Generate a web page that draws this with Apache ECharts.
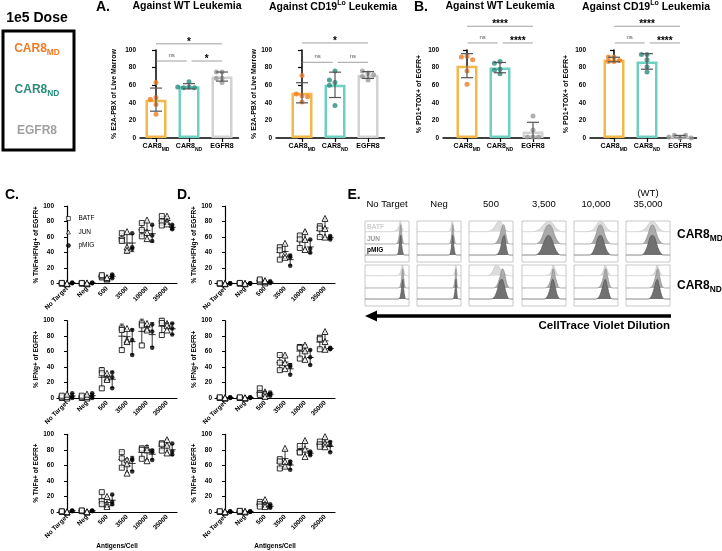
<!DOCTYPE html>
<html><head><meta charset="utf-8">
<script src="https://cdn.jsdelivr.net/npm/echarts@6.0.0/dist/echarts.min.js"></script>
<style>html,body{margin:0;padding:0;background:#fff;}#c{width:722px;height:551px;}</style>
</head><body><div id="c"></div>
<script>
// ================= DATA =================
const barCats = ['CAR8MD', 'CAR8ND', 'EGFR8'];
// Panel A: % E2A-PBX of live marrow (5 mice per group)
const aWT_MD = [63, 46, 44, 38, 27];
const aWT_ND = [64, 58, 57, 57, 58];
const aWT_EG = [75, 75, 68, 68, 63];
const aLo_MD = [71, 48, 50, 47, 41];
const aLo_ND = [76, 63, 66, 60, 37];
const aLo_EG = [74, 76, 70, 66, 72];
// Panel B: % PD1+TOX+ of EGFR+
const bWT_MD = [93, 92, 89, 76, 61];
const bWT_ND = [87, 85, 78, 77, 73];
const bWT_EG = [25, 9, 1, 1, 1];
const bLo_MD = [92, 92, 88, 87, 87];
const bLo_ND = [95, 95, 89, 81, 75];
const bLo_EG = [0, 3, 3, 1, 0];
// significance: [MD vs EGFR8, MD vs ND, ND vs EGFR8]
const sigA_WT = ['*', 'ns', '*'];
const sigA_Lo = ['*', 'ns', 'ns'];
const sigB_WT = ['****', 'ns', '****'];
const sigB_Lo = ['****', 'ns', '****'];

// Panels C / D: per antigen density, three replicates per construct
const antigenCats = ['No Target', 'Neg', '500', '3500', '10000', '35000'];
const dotGroups = ['BATF', 'JUN', 'pMIG'];
const cTI_BATF = [[0,0.5,1],[0,0.5,1],[8,9.5,11],[65,57,55],[78,69,61],[87,80,75]];
const cTI_JUN  = [[0,0,0.5],[0,0,1],[6,7,8],[67,47,43],[82,66,58],[87,80,77]];
const cTI_pMIG = [[0.5,1,1.5],[0.5,1,1.5],[7,10,12],[65,47,45],[76,62,55],[76,72,70]];
const cI_BATF = [[0,1,3],[0,1,3],[36,32,12.5],[90,88,62],[96.5,94,68],[100,97,81.5]];
const cI_JUN  = [[0,2,5],[0,2,5],[32,26,24],[90,75,73],[96.5,90,88],[96.5,94,88]];
const cI_pMIG = [[0,2,6],[0,3,6],[33,27,12.5],[88,75,55.6],[95,86,65],[96.5,90,82]];
const cT_BATF = [[0,0.5,1],[1,1.5,2],[25.5,14,10],[77,69,57],[82,80,68.5],[88.5,87,79]];
const cT_JUN  = [[0,0,0.5],[0,0,0.5],[20,10,7],[67,62,50],[83,80,66],[93,86,76]];
const cT_pMIG = [[1,1.5,2],[1,1.5,2],[22.5,13,10],[68.5,67,52],[79,77,67],[88,78,74]];
const dTI_BATF = [[0,0,0.5],[0,0.5,1],[2,4,5.5],[47,43,31],[62,57,46],[74,71,60]];
const dTI_JUN  = [[0,0,0.5],[0,0,0.5],[1,3,4],[52,38.5,34],[67,57,44],[84,71,60]];
const dTI_pMIG = [[0,0.5,0.5],[0,0.5,0.5],[1,2,3],[36,34,23],[57,45,40],[61.5,59,57]];
const dI_BATF = [[0,0,1],[0,0,1],[12.5,6,4],[55.6,45.7,36],[66,65,51],[78,76,63]];
const dI_JUN  = [[0,0,0.5],[0,0,0.5],[8,6,2],[55.6,45.7,38],[68.5,61,50],[86,73,63]];
const dI_pMIG = [[0,0.5,1],[0,0.5,1],[7,5,3],[42.7,40.5,30],[62,52.6,42.7],[65,64,63]];
const dT_BATF = [[0,0.5,1],[0,1,1.5],[13,10,7],[68,65,56],[85,77,76.6],[90.6,87,84]];
const dT_JUN  = [[0,0,0.5],[0,0.5,1],[16,10,7],[82,65,59],[92,81,71.5],[97,88.5,84]];
const dT_pMIG = [[0,0.5,1],[0,0.5,1],[10,7,5.5],[65,62,54.5],[78,76,73],[90,86,77]];

// Panel E: CellTrace Violet histograms, [x fraction of plot, normalized count]
const eColLabels = ['No Target', 'Neg', '500', '3,500', '10,000', '35,000'];
const hMD_BATF = [
  [[0,0],[0.6,0],[0.68,0.05],[0.74,0.22],[0.78,0.65],[0.8,1],[0.83,0.6],[0.86,0.12],[0.9,0],[1,0]],
  [[0,0],[0.7,0],[0.75,0.1],[0.78,0.55],[0.8,1],[0.83,0.45],[0.86,0.05],[0.9,0],[1,0]],
  [[0,0],[0.4,0],[0.5,0.12],[0.58,0.45],[0.65,0.9],[0.69,1],[0.74,0.8],[0.8,0.35],[0.86,0.08],[0.92,0],[1,0]],
  [[0,0],[0.25,0],[0.35,0.1],[0.45,0.45],[0.55,0.9],[0.61,1],[0.68,0.85],[0.76,0.4],[0.84,0.1],[0.9,0],[1,0]],
  [[0,0],[0.3,0],[0.4,0.1],[0.48,0.4],[0.55,0.85],[0.6,1],[0.66,0.85],[0.74,0.35],[0.82,0.06],[0.88,0],[1,0]],
  [[0,0],[0.28,0],[0.38,0.1],[0.47,0.45],[0.55,0.9],[0.6,1],[0.66,0.85],[0.74,0.4],[0.82,0.08],[0.9,0],[1,0]]
];
const hMD_JUN = [
  [[0,0],[0.68,0],[0.74,0.08],[0.78,0.5],[0.81,1],[0.84,0.45],[0.87,0.05],[0.9,0],[1,0]],
  [[0,0],[0.71,0],[0.76,0.1],[0.79,0.55],[0.81,1],[0.84,0.4],[0.87,0.04],[0.9,0],[1,0]],
  [[0,0],[0.55,0],[0.63,0.1],[0.7,0.45],[0.76,0.95],[0.79,1],[0.83,0.6],[0.87,0.15],[0.92,0],[1,0]],
  [[0,0],[0.3,0],[0.4,0.12],[0.48,0.5],[0.56,0.92],[0.62,1],[0.68,0.85],[0.76,0.35],[0.84,0.06],[0.9,0],[1,0]],
  [[0,0],[0.35,0],[0.43,0.12],[0.5,0.5],[0.56,0.92],[0.6,1],[0.65,0.85],[0.72,0.35],[0.8,0.05],[0.86,0],[1,0]],
  [[0,0],[0.35,0],[0.43,0.12],[0.5,0.5],[0.56,0.9],[0.6,1],[0.65,0.85],[0.72,0.35],[0.8,0.06],[0.86,0],[1,0]]
];
const hMD_pMIG = [
  [[0,0],[0.7,0],[0.75,0.08],[0.78,0.55],[0.81,1],[0.84,0.4],[0.87,0.04],[0.9,0],[1,0]],
  [[0,0],[0.72,0],[0.76,0.1],[0.79,0.6],[0.81,1],[0.84,0.4],[0.87,0.04],[0.9,0],[1,0]],
  [[0,0],[0.6,0],[0.67,0.1],[0.72,0.4],[0.77,0.9],[0.8,1],[0.84,0.5],[0.88,0.08],[0.92,0],[1,0]],
  [[0,0],[0.3,0],[0.4,0.15],[0.48,0.55],[0.55,0.9],[0.6,1],[0.66,0.88],[0.74,0.4],[0.82,0.08],[0.9,0],[1,0]],
  [[0,0],[0.35,0],[0.43,0.15],[0.5,0.55],[0.55,0.9],[0.6,1],[0.65,0.88],[0.72,0.35],[0.8,0.05],[0.86,0],[1,0]],
  [[0,0],[0.35,0],[0.43,0.15],[0.5,0.55],[0.55,0.92],[0.6,1],[0.65,0.9],[0.72,0.4],[0.8,0.06],[0.86,0],[1,0]]
];
const hND_BATF = [
  [[0,0],[0.7,0],[0.77,0.08],[0.81,0.4],[0.85,1],[0.88,0.5],[0.91,0.08],[0.94,0],[1,0]],
  [[0,0],[0.8,0],[0.84,0.1],[0.87,0.6],[0.885,1],[0.9,0.55],[0.92,0.06],[0.95,0],[1,0]],
  [[0,0],[0.4,0],[0.48,0.1],[0.55,0.5],[0.6,0.95],[0.64,1],[0.7,0.7],[0.78,0.25],[0.86,0.05],[0.92,0],[1,0]],
  [[0,0],[0.55,0],[0.62,0.1],[0.67,0.45],[0.71,1],[0.75,0.6],[0.8,0.15],[0.86,0],[1,0]],
  [[0,0],[0.55,0],[0.62,0.1],[0.67,0.5],[0.71,1],[0.75,0.6],[0.8,0.15],[0.86,0],[1,0]],
  [[0,0],[0.55,0],[0.62,0.1],[0.67,0.5],[0.71,1],[0.75,0.55],[0.8,0.12],[0.86,0],[1,0]]
];
const hND_JUN = [
  [[0,0],[0.75,0],[0.8,0.1],[0.83,0.5],[0.86,1],[0.88,0.5],[0.91,0.05],[0.94,0],[1,0]],
  [[0,0],[0.8,0],[0.84,0.1],[0.87,0.6],[0.885,1],[0.9,0.5],[0.92,0.05],[0.95,0],[1,0]],
  [[0,0],[0.55,0],[0.63,0.12],[0.7,0.55],[0.76,1],[0.8,0.85],[0.85,0.3],[0.9,0.04],[0.94,0],[1,0]],
  [[0,0],[0.52,0],[0.6,0.12],[0.66,0.5],[0.71,1],[0.76,0.55],[0.82,0.1],[0.88,0],[1,0]],
  [[0,0],[0.52,0],[0.6,0.12],[0.66,0.5],[0.72,1],[0.77,0.55],[0.82,0.1],[0.88,0],[1,0]],
  [[0,0],[0.52,0],[0.6,0.12],[0.66,0.5],[0.72,1],[0.77,0.55],[0.82,0.1],[0.88,0],[1,0]]
];
const hND_pMIG = [
  [[0,0],[0.75,0],[0.8,0.1],[0.83,0.55],[0.86,1],[0.88,0.5],[0.91,0.05],[0.94,0],[1,0]],
  [[0,0],[0.8,0],[0.84,0.1],[0.87,0.6],[0.885,1],[0.9,0.5],[0.92,0.05],[0.95,0],[1,0]],
  [[0,0],[0.5,0],[0.58,0.12],[0.65,0.5],[0.71,0.95],[0.75,1],[0.8,0.7],[0.86,0.2],[0.92,0],[1,0]],
  [[0,0],[0.5,0],[0.58,0.15],[0.64,0.55],[0.7,1],[0.75,0.65],[0.81,0.15],[0.88,0],[1,0]],
  [[0,0],[0.5,0],[0.58,0.15],[0.64,0.55],[0.71,1],[0.76,0.62],[0.82,0.12],[0.88,0],[1,0]],
  [[0,0],[0.5,0],[0.58,0.15],[0.64,0.55],[0.71,1],[0.76,0.62],[0.82,0.12],[0.88,0],[1,0]]
];

// ================= STYLE / LAYOUT =================
const F = '"Liberation Sans", Arial, Helvetica, sans-serif';
const BAR_EDGE = ['#F2B84B', '#6FCFC1', '#D2D2D2'];
const DOT = ['#F07A22', '#2A8C7C', '#9A9A9A'];
const mean = a => a.reduce((s, v) => s + v, 0) / a.length;
const sd = a => { const m = mean(a); return Math.sqrt(a.reduce((s, v) => s + (v - m) * (v - m), 0) / (a.length - 1)); };

const grid = [], xAxis = [], yAxis = [], series = [], graphic = [];

function swarm(vals, xi, d, thr) {
  const placed = [];
  return vals.map(v => {
    const near = placed.filter(p => Math.abs(p[1] - v) < thr);
    const cands = [0, -d, d, -2 * d, 2 * d];
    let off = cands.find(c => near.every(p => Math.abs(p[0] - c) > d * 0.5));
    if (off === undefined) off = 0;
    placed.push([off, v]);
    return [xi + off, v];
  });
}

const barRich = {
  b: { fontSize: 7, fontWeight: 'bold', fontFamily: F, color: '#000', verticalAlign: 'top', lineHeight: 9 },
  s: { fontSize: 5, fontWeight: 'bold', fontFamily: F, color: '#000', verticalAlign: 'top', padding: [4, 0, 0, 0] }
};
const catLabel = c => c.indexOf('CAR8') === 0 ? '{b|CAR8}{s|' + c.slice(4) + '}' : '{b|' + c + '}';

function barPanel(box, groups, sig, yName, lv) {
  const gi = grid.length;
  const ppu = box.ppu;
  const min = -(box.c0 - box.ax) / ppu;
  grid.push({ left: box.ax, top: box.t, width: (2.5 - min) * ppu, height: box.h });
  const xi = xAxis.length;
  xAxis.push({
    type: 'value', gridIndex: gi, min: min, max: 2.5, splitLine: { show: false },
    axisLine: { show: true, onZero: false, lineStyle: { color: '#000', width: 1.5 } },
    axisTick: { show: true, customValues: [0, 1, 2], length: 4, lineStyle: { color: '#000', width: 1.2 } },
    axisLabel: { show: true, customValues: [0, 1, 2], formatter: v => catLabel(barCats[Math.round(v)]), rich: barRich, margin: 5 }
  });
  const yi = yAxis.length;
  yAxis.push({
    type: 'value', gridIndex: gi, min: 0, max: 100, interval: 20, name: yName, nameLocation: 'middle', nameGap: box.ng, nameRotate: 90,
    nameTextStyle: { fontSize: 7, fontWeight: 'bold', color: '#000', fontFamily: F },
    splitLine: { show: false },
    axisLine: { show: true, lineStyle: { color: '#000', width: 1.5 } },
    axisTick: { show: true, length: 4, lineStyle: { color: '#000', width: 1.2 } },
    axisLabel: { fontSize: 6.5, fontWeight: 'bold', color: '#000', fontFamily: F, margin: 4 }
  });
  series.push({
    type: 'bar', xAxisIndex: xi, yAxisIndex: yi, barWidth: 21, silent: true, z: 1,
    itemStyle: { color: '#fff', borderWidth: 2.5 },
    data: groups.map((g, i) => ({ value: [i, mean(g)], itemStyle: { borderColor: BAR_EDGE[i] } }))
  });
  groups.forEach((g, i) => series.push({
    type: 'scatter', xAxisIndex: xi, yAxisIndex: yi, symbolSize: 5, z: 3, silent: true,
    itemStyle: { color: DOT[i] }, data: swarm(g, i, 0.17, 4.5)
  }));
  series.push({
    type: 'custom', xAxisIndex: xi, yAxisIndex: yi, z: 4, silent: true, clip: true,
    data: groups.map((g, i) => [i, mean(g) - sd(g), mean(g) + sd(g)]),
    renderItem: (p, api) => {
      const a = api.coord([api.value(0), api.value(1)]), b = api.coord([api.value(0), api.value(2)]);
      const st = { stroke: '#555', lineWidth: 1.2 };
      return { type: 'group', children: [
        { type: 'line', shape: { x1: a[0], y1: a[1], x2: b[0], y2: b[1] }, style: st },
        { type: 'line', shape: { x1: a[0] - 6, y1: a[1], x2: a[0] + 6, y2: a[1] }, style: st },
        { type: 'line', shape: { x1: b[0] - 6, y1: b[1], x2: b[0] + 6, y2: b[1] }, style: st }
      ] };
    }
  });
  const spans = [[0, 2, lv[1]], [0.02, 0.93, lv[0]], [1.08, 2, lv[0]]];
  series.push({
    type: 'custom', xAxisIndex: xi, yAxisIndex: yi, z: 5, silent: true, clip: false,
    data: sig.map((s, k) => [spans[k][0], spans[k][1], spans[k][2]]),
    renderItem: (p, api) => {
      const a = api.coord([api.value(0), api.value(2)]), b = api.coord([api.value(1), api.value(2)]);
      const t = sig[p.dataIndex];
      const isNs = t === 'ns';
      return { type: 'group', children: [
        { type: 'line', shape: { x1: a[0], y1: a[1], x2: b[0], y2: b[1] }, style: { stroke: '#A0A0A0', lineWidth: 1 } },
        { type: 'text', x: (a[0] + b[0]) / 2, y: a[1] - (isNs ? 5.5 : 2), style: {
          text: t, align: 'center', verticalAlign: 'middle', fill: isNs ? '#555' : '#000',
          font: isNs ? '6px ' + F : 'bold 10px ' + F } }
      ] };
    }
  });
}

const ERR = { stroke: '#000', lineWidth: 0.8 };
function dotPanel(box, sets, yName, xName) {
  const gi = grid.length;
  grid.push({ left: box.l, top: box.t, width: 120, height: box.h });
  const xc = xAxis.length;
  xAxis.push({
    type: 'category', gridIndex: gi, data: antigenCats, name: xName || '', nameLocation: 'middle', nameGap: 31,
    nameTextStyle: { fontSize: 6.5, fontWeight: 'bold', color: '#000', fontFamily: F },
    axisLine: { lineStyle: { color: '#000', width: 1.2 } },
    axisTick: { alignWithLabel: true, length: 3, lineStyle: { color: '#000', width: 1 } },
    axisLabel: { rotate: 45, interval: 0, fontSize: 6.5, fontWeight: 'bold', color: '#000', fontFamily: F, margin: 4 }
  });
  const xv = xAxis.length;
  xAxis.push({ type: 'value', gridIndex: gi, min: -0.5, max: 5.5, show: false });
  const yi = yAxis.length;
  yAxis.push({
    type: 'value', gridIndex: gi, min: 0, max: 100, interval: 20, name: yName, nameLocation: 'middle', nameGap: box.ng, nameRotate: 90,
    nameTextStyle: { fontSize: 6.5, fontWeight: 'bold', color: '#000', fontFamily: F },
    splitLine: { show: false },
    axisLine: { show: true, lineStyle: { color: '#000', width: 1.2 } },
    axisTick: { show: true, length: 3, lineStyle: { color: '#000', width: 1 } },
    axisLabel: { fontSize: 6.5, fontWeight: 'bold', color: '#000', fontFamily: F, margin: 3 }
  });
  const offs = [-0.26, 0, 0.26];
  const sym = [
    { symbol: 'rect', symbolSize: 5, itemStyle: { color: '#fff', borderColor: '#000', borderWidth: 1 } },
    { symbol: 'triangle', symbolSize: 6, itemStyle: { color: '#fff', borderColor: '#000', borderWidth: 1 } },
    { symbol: 'circle', symbolSize: 4.5, itemStyle: { color: '#000', borderColor: '#000', borderWidth: 0 } }
  ];
  sets.forEach((set, g) => {
    series.push({
      type: 'custom', xAxisIndex: xv, yAxisIndex: yi, z: 2, silent: true, clip: false,
      data: set.map((v, c) => [c + offs[g], mean(v), Math.max(0, mean(v) - sd(v)), mean(v) + sd(v)]),
      renderItem: (p, api) => {
        const m = api.coord([api.value(0), api.value(1)]);
        const lo = api.coord([api.value(0), api.value(2)]), hi = api.coord([api.value(0), api.value(3)]);
        return { type: 'group', children: [
          { type: 'line', shape: { x1: lo[0], y1: lo[1], x2: hi[0], y2: hi[1] }, style: ERR },
          { type: 'line', shape: { x1: lo[0] - 2, y1: lo[1], x2: lo[0] + 2, y2: lo[1] }, style: ERR },
          { type: 'line', shape: { x1: hi[0] - 2, y1: hi[1], x2: hi[0] + 2, y2: hi[1] }, style: ERR },
          { type: 'line', shape: { x1: m[0] - 3.5, y1: m[1], x2: m[0] + 3.5, y2: m[1] }, style: ERR }
        ] };
      }
    });
    const pts = [];
    set.forEach((v, c) => v.forEach(y => pts.push([c + offs[g], y])));
    series.push(Object.assign({ type: 'scatter', name: dotGroups[g], xAxisIndex: xv, yAxisIndex: yi, z: 3, silent: true, data: pts }, sym[g]));
  });
}

// ---- panel A / B bar charts ----
barPanel({ ax: 140, c0: 156, ppu: 33, t: 50, h: 88, ng: 22 }, [aWT_MD, aWT_ND, aWT_EG], sigA_WT, '% E2A-PBX of Live Marrow', [87.5, 107]);
barPanel({ ax: 276, c0: 302, ppu: 33, t: 50, h: 88, ng: 15 }, [aLo_MD, aLo_ND, aLo_EG], sigA_Lo, '% E2A-PBX of Live Marrow', [86, 108]);
barPanel({ ax: 443, c0: 467, ppu: 33, t: 50, h: 88, ng: 20 }, [bWT_MD, bWT_ND, bWT_EG], sigB_WT, '% PD1+TOX+ of EGFR+', [108, 127]);
barPanel({ ax: 590, c0: 614, ppu: 33, t: 50, h: 88, ng: 20 }, [bLo_MD, bLo_ND, bLo_EG], sigB_Lo, '% PD1+TOX+ of EGFR+', [108, 127]);

// ---- panel C / D dot plots ----
dotPanel({ l: 57, t: 206, h: 77.7, ng: 16 }, [cTI_BATF, cTI_JUN, cTI_pMIG], '% TNFa+IFNg+ of EGFR+');
dotPanel({ l: 57, t: 320.7, h: 77.3, ng: 16 }, [cI_BATF, cI_JUN, cI_pMIG], '% IFNg+ of EGFR+');
dotPanel({ l: 57, t: 434.3, h: 78.4, ng: 16 }, [cT_BATF, cT_JUN, cT_pMIG], '% TNFa+ of EGFR+', 'Antigens/Cell');
dotPanel({ l: 215, t: 206, h: 77.7, ng: 12 }, [dTI_BATF, dTI_JUN, dTI_pMIG], '% TNFa+IFNg+ of EGFR+');
dotPanel({ l: 215, t: 320.7, h: 77.3, ng: 12 }, [dI_BATF, dI_JUN, dI_pMIG], '% IFNg+ of EGFR+');
dotPanel({ l: 215, t: 434.3, h: 78.4, ng: 12 }, [dT_BATF, dT_JUN, dT_pMIG], '% TNFa+ of EGFR+', 'Antigens/Cell');

// ---- panel E histograms ----
const eX = [365, 417, 469, 522, 574, 626], eW = 44, eY = [221, 265], eH = 41;
const eBase = { BATF: 0.74, JUN: 0.44, pMIG: 0.17 };
const eAmp = { BATF: 0.26, JUN: 0.47, pMIG: 0.48 };
const eFill = { BATF: '#DCDCDC', JUN: '#AAAAAA', pMIG: '#717171' };
const eLine = { BATF: '#C4C4C4', JUN: '#8C8C8C', pMIG: '#555555' };
const HIST = [
  { BATF: hMD_BATF, JUN: hMD_JUN, pMIG: hMD_pMIG },
  { BATF: hND_BATF, JUN: hND_JUN, pMIG: hND_pMIG }
];
HIST.forEach((row, r) => {
  eColLabels.forEach((lab, c) => {
    const gi = grid.length;
    grid.push({ left: eX[c], top: eY[r], width: eW, height: eH, show: true, borderColor: '#C8C8C8', borderWidth: 1, backgroundColor: '#fff' });
    const xi = xAxis.length, yi = yAxis.length;
    xAxis.push({ type: 'value', gridIndex: gi, min: 0, max: 1, show: false });
    yAxis.push({ type: 'value', gridIndex: gi, min: 0, max: 1, show: false });
    dotGroups.forEach(g => {
      series.push({
        type: 'line', xAxisIndex: xi, yAxisIndex: yi, silent: true, symbol: 'none', smooth: 0.35,
        data: row[g][c].map(p => [p[0], eBase[g] + eAmp[g] * p[1]]),
        lineStyle: { color: eLine[g], width: 0.7 },
        areaStyle: { color: eFill[g], opacity: 1, origin: eBase[g] }
      });
    });
  });
});

// ================= TEXT / DECOR =================
function txt(t, x, y, font, fill, align) {
  graphic.push({ type: 'text', x: x, y: y, style: { text: t, font: font, fill: fill || '#000', align: align || 'center', verticalAlign: 'middle' } });
}
function subTxt(main, sub, x, y, size, fill, align) {
  graphic.push({ type: 'text', x: x, y: y, style: {
    text: '{m|' + main + '}{s|' + sub + '}', align: align || 'center', verticalAlign: 'middle',
    rich: {
      m: { fontSize: size, fontWeight: 'bold', fontFamily: F, fill: fill, verticalAlign: 'top', lineHeight: size * 1.15 },
      s: { fontSize: size * 0.7, fontWeight: 'bold', fontFamily: F, fill: fill, verticalAlign: 'top', padding: [size * 0.5, 0, 0, 0] }
    } } });
}
function supTitle(x, y) {
  graphic.push({ type: 'text', x: x, y: y, style: {
    text: '{a|Against CD19}{s|Lo}{a| Leukemia}', align: 'center', verticalAlign: 'middle',
    rich: {
      a: { fontSize: 10.5, fontWeight: 'bold', fontFamily: F, fill: '#000', verticalAlign: 'bottom', lineHeight: 13 },
      s: { fontSize: 7, fontWeight: 'bold', fontFamily: F, fill: '#000', verticalAlign: 'top', lineHeight: 8 }
    } } });
}
txt('1e5 Dose', 37, 18, 'bold 14px ' + F);
graphic.push({ type: 'rect', shape: { x: 3, y: 31, width: 71, height: 119 }, style: { fill: 'none', stroke: '#000', lineWidth: 3 } });
subTxt('CAR8', 'MD', 37, 50, 12, DOT[0]);
subTxt('CAR8', 'ND', 37, 91, 12, DOT[1]);
txt('EGFR8', 37, 131, 'bold 12px ' + F, '#A0A0A0');
txt('A.', 103, 7, 'bold 14px ' + F);
txt('B.', 421, 7, 'bold 14px ' + F);
txt('C.', 12, 195, 'bold 14px ' + F);
txt('D.', 184, 195, 'bold 14px ' + F);
txt('E.', 354, 195, 'bold 14px ' + F);
txt('Against WT Leukemia', 187, 6, 'bold 10.5px ' + F);
supTitle(333, 6);
txt('Against WT Leukemia', 500, 6, 'bold 10.5px ' + F);
supTitle(646, 6);

// panel E labels
eColLabels.forEach((lab, c) => txt(lab, eX[c] + eW / 2, 204, '9.5px ' + F));
txt('(WT)', eX[5] + eW / 2, 193, '9.5px ' + F);
txt('BATF', 367, 227, 'bold 6.5px ' + F, '#CDCDCD', 'left');
txt('JUN', 367, 239, 'bold 6.5px ' + F, '#9A9A9A', 'left');
txt('pMIG', 367, 250, 'bold 6.5px ' + F, '#000', 'left');
subTxt('CAR8', 'MD', 677, 236, 12, '#000', 'left');
subTxt('CAR8', 'ND', 677, 287, 12, '#000', 'left');
graphic.push({ type: 'line', shape: { x1: 374, y1: 316, x2: 671, y2: 316 }, style: { stroke: '#000', lineWidth: 3.5 } });
graphic.push({ type: 'polygon', shape: { points: [[365, 316], [377, 310.5], [377, 321.5]] }, style: { fill: '#000' } });
txt('CellTrace Violet Dilution', 670, 326, 'bold 11.5px ' + F, '#000', 'right');

const chart = echarts.init(document.getElementById('c'), null, { renderer: 'canvas' });
chart.setOption({
  backgroundColor: '#fff', animation: false,
  grid: grid, xAxis: xAxis, yAxis: yAxis, series: series, graphic: graphic,
  legend: {
    data: dotGroups, orient: 'vertical', left: 61, top: 210, itemWidth: 4, itemHeight: 4, itemGap: 6.5,
    itemStyle: { borderWidth: 0.8 },
    selectedMode: false, textStyle: { fontSize: 6.5, fontFamily: F, color: '#000', padding: [0, 0, 0, 3] }
  }
});
</script></body></html>
